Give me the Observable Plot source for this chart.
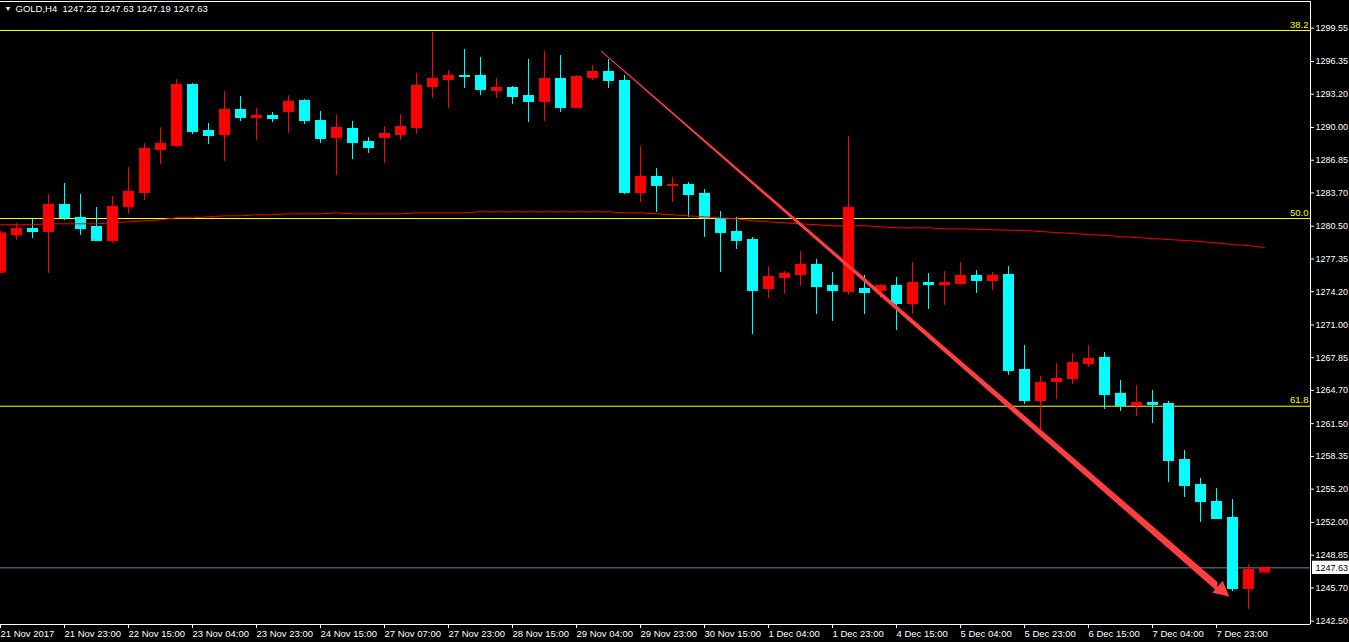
<!DOCTYPE html>
<html><head><meta charset="utf-8">
<script src="https://cdn.jsdelivr.net/npm/d3@7"></script>
<script src="https://cdn.jsdelivr.net/npm/@observablehq/plot@0.6"></script>
<style>html,body{margin:0;padding:0;background:#000;overflow:hidden}</style>
</head><body><div id="chart"></div>
<script>
const symbolName = "GOLD,H4";
const opens = [1276.07,1279.70,1280.28,1279.99,1282.59,1281.34,1280.47,1279.13,1282.40,1283.74,
1287.88,1288.26,1294.13,1289.71,1289.32,1291.73,1290.96,1291.15,1291.54,1292.59,
1290.67,1289.03,1289.90,1288.65,1289.03,1289.32,1290.00,1293.94,1294.61,1295.00,
1295.00,1293.56,1293.84,1293.07,1292.50,1294.71,1291.92,1294.81,1295.38,1294.52,
1283.74,1285.28,1284.42,1284.51,1283.65,1281.24,1279.99,1279.22,1274.51,1275.57,
1275.85,1276.82,1274.80,1274.22,1274.51,1274.31,1274.80,1273.06,1275.08,1274.89,
1274.99,1275.76,1275.28,1275.85,1266.71,1263.73,1265.56,1265.85,1267.29,1267.87,
1264.41,1263.25,1263.54,1263.44,1258.05,1255.65,1254.01,1252.47,1245.64,1247.22];
const highs = [1279.99,1280.76,1281.14,1283.55,1284.61,1283.55,1282.30,1283.36,1286.15,1288.46,
1289.99,1294.61,1294.23,1290.38,1293.46,1292.98,1291.82,1291.44,1293.07,1292.69,
1291.54,1291.15,1290.57,1289.03,1290.09,1291.25,1295.19,1299.14,1295.48,1297.50,
1296.73,1294.71,1293.94,1296.54,1297.31,1296.92,1295.00,1295.96,1296.54,1295.00,
1288.17,1286.05,1285.19,1284.70,1284.03,1281.91,1281.34,1279.42,1276.62,1276.14,
1278.07,1277.30,1276.05,1289.13,1275.76,1274.89,1275.57,1277.01,1275.95,1276.14,
1277.01,1276.24,1276.05,1276.62,1269.02,1266.04,1267.29,1268.25,1269.02,1268.35,
1265.66,1265.17,1264.69,1263.64,1258.92,1256.23,1255.26,1254.20,1247.95,1247.63];
const lows = [1275.95,1279.13,1279.32,1275.95,1281.05,1279.61,1279.13,1278.84,1281.63,1282.97,
1286.43,1288.20,1289.32,1288.36,1286.72,1290.57,1288.75,1290.48,1289.42,1290.29,
1288.46,1285.38,1286.91,1287.50,1286.53,1288.75,1289.32,1292.79,1291.82,1293.75,
1293.07,1292.79,1292.21,1290.48,1290.57,1291.44,1291.82,1294.52,1293.75,1283.55,
1282.78,1281.82,1282.78,1281.34,1279.42,1276.05,1278.26,1270.08,1273.54,1273.93,
1274.70,1272.01,1271.33,1273.83,1272.01,1273.54,1270.47,1272.01,1272.49,1272.87,
1274.80,1274.03,1274.31,1266.14,1263.35,1260.84,1263.83,1265.27,1266.91,1262.87,
1262.67,1262.19,1261.52,1255.84,1254.40,1251.99,1252.38,1245.35,1243.62,1247.19];
const closes = [1279.83,1280.28,1279.99,1282.59,1281.34,1280.28,1279.13,1282.40,1283.84,1287.98,
1288.46,1294.13,1289.61,1289.23,1291.73,1290.96,1291.15,1290.86,1292.50,1290.67,
1288.94,1290.00,1288.55,1288.07,1289.42,1290.09,1294.04,1294.71,1295.00,1294.90,
1293.65,1293.84,1292.98,1292.50,1294.71,1291.92,1294.90,1295.38,1294.52,1283.74,
1285.28,1284.42,1284.51,1283.55,1281.34,1279.89,1279.13,1274.31,1275.66,1275.95,
1276.82,1274.70,1274.31,1282.30,1274.12,1274.80,1273.06,1275.08,1274.89,1275.08,
1275.76,1275.28,1275.76,1266.62,1263.73,1265.47,1265.85,1267.39,1267.77,1264.31,
1263.25,1263.54,1263.35,1257.96,1255.55,1254.01,1252.38,1245.64,1247.47,1247.63];
const maValues = [1280.64,1280.64,1280.64,1280.73,1280.73,1280.73,1280.73,1280.83,1280.92,1281.02,
1281.12,1281.31,1281.31,1281.40,1281.50,1281.50,1281.60,1281.60,1281.69,1281.69,
1281.69,1281.79,1281.69,1281.69,1281.69,1281.69,1281.79,1281.79,1281.79,1281.79,
1281.89,1281.89,1281.89,1281.89,1281.89,1281.89,1281.89,1281.89,1281.89,1281.79,
1281.79,1281.69,1281.60,1281.50,1281.40,1281.31,1281.21,1281.02,1280.92,1280.83,
1280.73,1280.64,1280.54,1280.54,1280.54,1280.44,1280.35,1280.35,1280.35,1280.25,
1280.25,1280.21,1280.15,1280.12,1280.09,1279.99,1279.89,1279.80,1279.70,1279.61,
1279.51,1279.41,1279.32,1279.22,1279.13,1279.03,1278.89,1278.74,1278.64,1278.45];
const priceTicks = [1299.55,1296.35,1293.20,1290.00,1286.85,1283.70,1280.50,1277.35,1274.20,1271.00,
1267.85,1264.70,1261.50,1258.35,1255.20,1252.00,1248.85,1245.70,1242.50];
const timeTickIndex = [0,4,8,12,16,20,24,28,32,36,40,44,48,52,56,60,64,68,72,76];
const timeTickLabels = ["21 Nov 2017","21 Nov 23:00","22 Nov 15:00","23 Nov 04:00","23 Nov 23:00",
"24 Nov 15:00","27 Nov 07:00","27 Nov 23:00","28 Nov 15:00","29 Nov 04:00","29 Nov 23:00",
"30 Nov 15:00","1 Dec 04:00","1 Dec 23:00","4 Dec 15:00","5 Dec 04:00","5 Dec 23:00",
"6 Dec 15:00","7 Dec 04:00","7 Dec 23:00"];
const fibLevels = [1299.33, 1281.24, 1263.18];
const fibLabels = ["38.2", "50.0", "61.8"];
const lastPrice = 1247.63;
// arrow annotation (index, price, half-thickness in price)
const arrowShaft = [{i: 37.56, p: 1297.31, h: 0.06}, {i: 76.09, p: 1245.76, h: 0.45}];
const arrowHead = [{i: 75.77, lo: 1245.19, hi: 1245.19}, {i: 76.42, lo: 1244.96, hi: 1246.34}, {i: 76.83, lo: 1244.81, hi: 1244.81}];

const xDomain = [0, 81.875];
const yDomain = [1242.18, 1302.12];
const UP = "#ff0000", DOWN = "#00ffff";
const candles = opens.map((o, i) => ({i, o, h: highs[i], l: lows[i], c: closes[i], up: closes[i] >= o}));
const last = candles[candles.length - 1];
const header = symbolName + "\u00a0\u00a0" + [last.o, last.h, last.l, last.c].map(v => v.toFixed(2)).join(" ");
const arrowColor = "#ff3f3f";

const chart = Plot.plot({
  width: 1349, height: 642,
  marginLeft: 0, marginRight: 39, marginTop: 1, marginBottom: 18,
  x: {domain: xDomain, axis: null},
  y: {domain: yDomain, axis: null},
  color: {type: "identity"},
  style: {background: "#000", color: "#fff", fontFamily: "Liberation Sans", fontSize: "9.5px"},
  marks: [
    Plot.ruleY(fibLevels, {stroke: "#ffff00"}),
    Plot.ruleY([lastPrice], {stroke: "#76839a"}),
    Plot.ruleX(candles, {x: "i", y1: "l", y2: "h", stroke: d => d.up ? UP : DOWN}),
    Plot.rect(candles, {x1: d => d.i - 5/16, x2: d => d.i + 6/16, y1: d => Math.min(d.o, d.c), y2: d => Math.max(d.o, d.c), fill: d => d.up ? UP : DOWN}),
    Plot.ruleY(candles, {x1: d => d.i - 5/16, x2: d => d.i + 6/16, y: "o", stroke: d => d.up ? UP : DOWN}),
    Plot.ruleY(candles, {x1: d => d.i - 5/16, x2: d => d.i + 6/16, y: "c", stroke: d => d.up ? UP : DOWN}),
    Plot.line(maValues, {x: (d, i) => i, y: d => d, stroke: "#ff0000", strokeWidth: 1}),
    Plot.areaY(arrowShaft, {x: "i", y1: d => d.p - d.h, y2: d => d.p + d.h, fill: arrowColor}),
    Plot.areaY(arrowHead, {x: "i", y1: "lo", y2: "hi", fill: arrowColor}),
    Plot.text(fibLevels, {x: xDomain[1], y: d => d, text: (d, i) => fibLabels[i], dx: -2, dy: -6, textAnchor: "end", fill: "#ffff00"}),
    Plot.ruleY([yDomain[1], yDomain[0]], {stroke: "#fff"}),
    Plot.ruleX([xDomain[1]], {stroke: "#fff"}),
    Plot.axisY(priceTicks, {anchor: "right", tickSize: 3, tickPadding: 2, fontSize: 9, tickFormat: d => d.toFixed(2), label: null}),
    Plot.axisX(timeTickIndex, {anchor: "bottom", tickSize: 4, tickPadding: 2, textAnchor: "start", tickFormat: d => timeTickLabels[timeTickIndex.indexOf(d)], label: null}),
    Plot.rect([lastPrice], {x1: () => xDomain[1] + 2/16, x2: () => xDomain[1] + 45/16, y1: d => d - 0.64, y2: d => d + 0.64, fill: "#fff"}),
    Plot.text([lastPrice], {x: xDomain[1], y: d => d, text: d => d.toFixed(2), dx: 5, fontSize: 9, textAnchor: "start", fill: "#000"}),
    Plot.text([header], {frameAnchor: "top-left", dx: 15, dy: 4, lineAnchor: "top", text: d => d, fill: "#fff"}),
    Plot.text(["\u25BC"], {frameAnchor: "top-left", dx: 4, dy: 5, lineAnchor: "top", text: d => d, fill: "#fff", fontSize: 7})
  ]
});
document.getElementById("chart").appendChild(chart);
</script>
</body></html>
